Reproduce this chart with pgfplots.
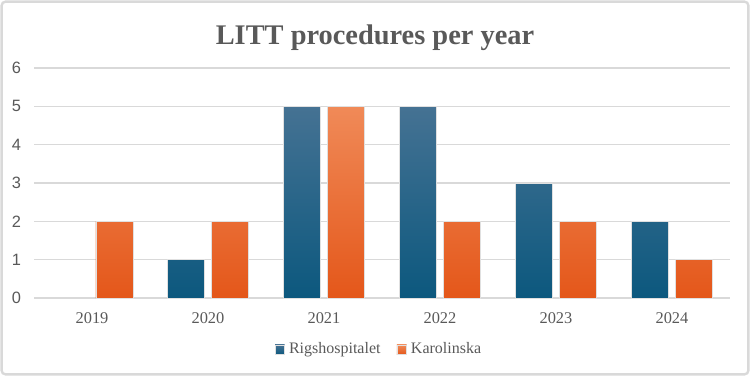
\documentclass[border=0pt]{standalone}
\usepackage{pgfplots}
\pgfplotsset{compat=1.18}
\usepackage{fontspec}
\setmainfont{Liberation Serif}
\newfontfamily\arialfont{Liberation Sans}

\definecolor{blueTop}{HTML}{457293}
\definecolor{blueBot}{HTML}{0C587E}
\definecolor{oranTop}{HTML}{F08A58}
\definecolor{oranBot}{HTML}{E4571A}
\definecolor{gridgray}{HTML}{D9D9D9}
\definecolor{txtgray}{HTML}{595959}

\begin{document}
\begin{tikzpicture}[x=1pt,y=1pt]
  \useasboundingbox (0,0) rectangle (375,188);
  \draw[gridgray, line width=1.2pt, rounded corners=2pt] (0.8,0.8) rectangle (374.2,187.2);

  \node[font=\rmfamily\bfseries\fontsize{14.2}{16}\selectfont, text=txtgray] at (187.5,169) {LITT procedures per year};

  \begin{axis}[
    at={(17pt,39pt)}, anchor=south west,
    scale only axis, width=348pt, height=115pt,
    xmin=-0.5, xmax=5.5, ymin=0, ymax=6,
    xtick={0,1,2,3,4,5},
    xticklabels={2019,2020,2021,2022,2023,2024},
    ytick={0,1,2,3,4,5,6},
    ymajorgrids, grid style={gridgray, line width=0.8pt},
    axis line style={draw=none},
    axis x line*=bottom,
    x axis line style={gridgray, line width=0.8pt},
    major tick length=0pt,
    tick label style={text=txtgray},
    xticklabel style={font=\rmfamily\fontsize{8.2}{10}\selectfont, yshift=-4pt},
    yticklabel style={font=\arialfont\fontsize{8.2}{10}\selectfont, xshift=-3pt},
    /pgf/number format/assume math mode=true,
    ybar, bar width=18.5pt,
    clip=false,
    legend style={
      at={(0.497,-0.225)}, anchor=center, draw=none, fill=none,
      legend columns=2,
      font=\rmfamily\fontsize{8}{10}\selectfont, text=txtgray,
      /tikz/every even column/.append style={column sep=6pt},
    },
    legend image code/.code={\fill[#1] (0pt,-2.4pt) rectangle (4.8pt,2.4pt);},
  ]
    \addplot[ybar, bar shift=-11.2pt, draw=black!12, line width=0.4pt,
             top color=blueTop, bottom color=blueBot, fill=blueBot]
      coordinates {(1,1) (2,5) (3,5) (4,3) (5,2)};
    \addplot[ybar, bar shift=11.2pt, draw=black!12, line width=0.4pt,
             top color=oranTop, bottom color=oranBot, fill=oranBot]
      coordinates {(0,2) (1,2) (2,5) (3,2) (4,2) (5,1)};
    \legend{Rigshospitalet, Karolinska}
  \end{axis}
\end{tikzpicture}
\end{document}
